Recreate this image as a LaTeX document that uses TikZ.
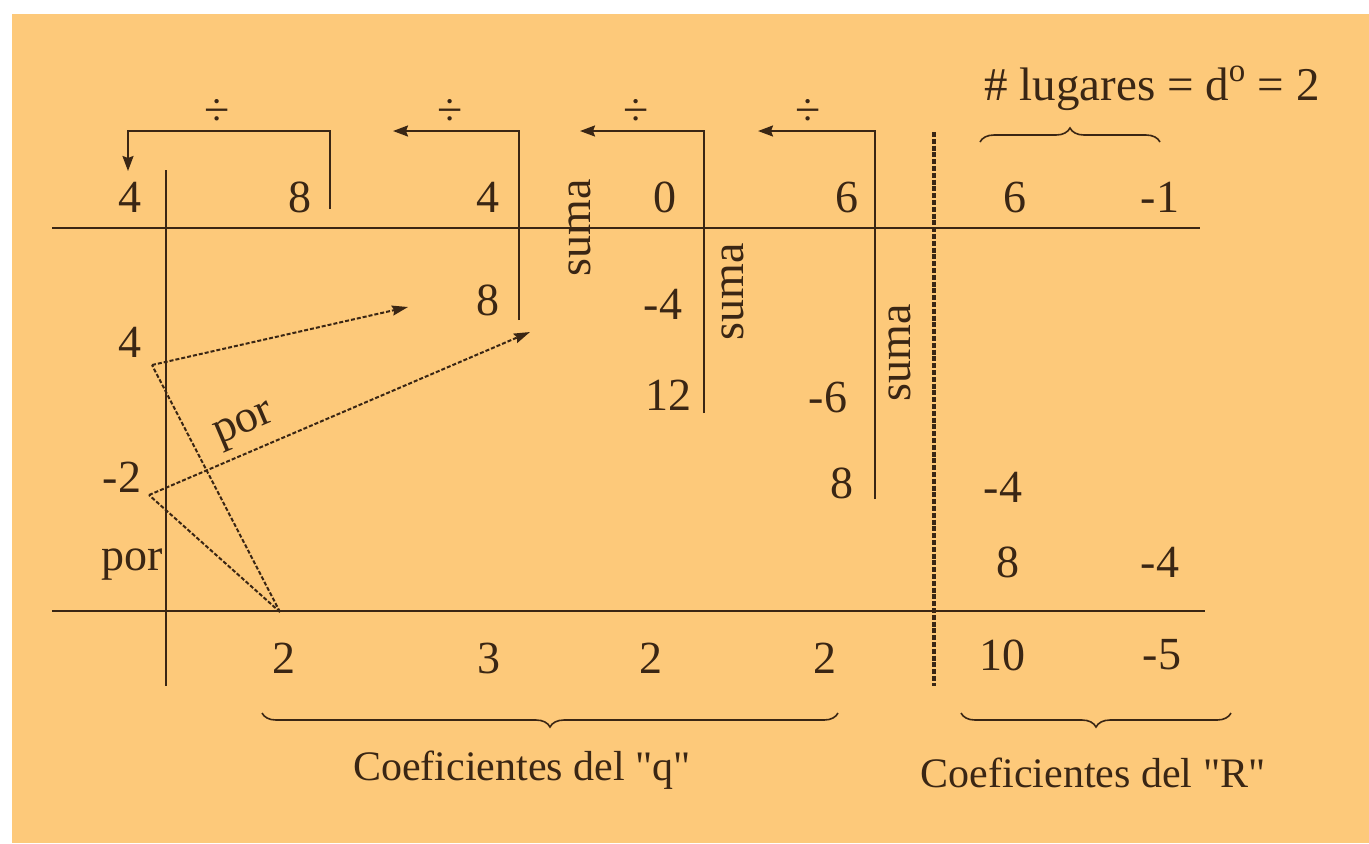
\documentclass[tikz,border=0pt]{standalone}
\usepackage{fontspec}
\setmainfont{Liberation Serif}
\usetikzlibrary{arrows.meta,decorations.pathreplacing}
\definecolor{bgor}{RGB}{253,201,122}
\definecolor{ink}{RGB}{58,38,20}
\begin{document}
\begin{tikzpicture}[x=0.5pt,y=-0.5pt,
  every node/.style={text=ink,inner sep=0pt},
  num/.style={font=\fontsize{23}{23}\selectfont},
  lbl/.style={font=\fontsize{23}{23}\selectfont,anchor=base},
  sumalbl/.style={font=\fontsize{23}{23}\selectfont,rotate=90},
  rule/.style={draw=ink,line width=1pt},
  divarrow/.style={draw=ink,line width=1pt,-{Stealth[length=7.5pt,width=5.5pt,inset=1pt]}},
  mult/.style={draw=ink,line width=1pt,dash pattern=on 2pt off 1pt},
  multarrow/.style={mult,-{Stealth[length=8pt,width=5pt,inset=1pt]}},
  brace/.style={draw=ink,line width=0.8pt,decorate,decoration={brace,amplitude=7pt}},
  mbrace/.style={draw=ink,line width=0.8pt,decorate,decoration={brace,amplitude=7pt,mirror}}]
\fill[white] (0,0) rectangle (1369,843);
\useasboundingbox (0,0) rectangle (1369,843);
\fill[bgor] (12,14) rectangle (1369,843);

% main rules
\coordinate (t1) at (52,228); \coordinate (t2) at (1200,228);
\coordinate (b1) at (52,611); \coordinate (b2) at (1205,611);
\coordinate (v1) at (166,170); \coordinate (v2) at (166,686);
\coordinate (r1) at (934,132); \coordinate (r2) at (934,686);
\draw[rule] (t1) -- (t2);
\draw[rule] (b1) -- (b2);
\draw[rule] (v1) -- (v2);
\draw[draw=ink,line width=1.6pt,dash pattern=on 2.5pt off 0.9pt] (r1) -- (r2);

% top row
\node[num] (a0) at (130,197) {4};
\node[num] (a1) at (300,197) {8};
\node[num] (a2) at (488,197) {4};
\node[num] (a3) at (665,197) {0};
\node[num] (a4) at (847,197) {6};
\node[num] (a5) at (1015,197) {6};
\node[num] (a6) at (1160,197) {-1};

% divisor column
\node[num] (p1) at (130,342) {4};
\node[num] (p2) at (122,477) {-2};
\node[lbl] (por1) at (132,570) {por};

% products
\node[num] (m1) at (488,300) {8};
\node[num] (m2) at (663,304) {-4};
\node[num] (m3) at (668,395) {12};
\node[num] (m4) at (828,397) {-6};
\node[num] (m5) at (842,483) {8};
\node[num] (m6) at (1003,487) {-4};
\node[num] (m7) at (1008,562) {8};
\node[num] (m8) at (1160,562) {-4};

% results
\node[num] (q1) at (284,658) {2};
\node[num] (q2) at (489,658) {3};
\node[num] (q3) at (651,658) {2};
\node[num] (q4) at (825,658) {2};
\node[num] (r1n) at (1002,655) {10};
\node[num] (r2n) at (1162,655) {-5};

% division arrows
\coordinate (d1a) at (330,209); \coordinate (d1b) at (330,131);
\coordinate (d1c) at (128,131); \coordinate (d1d) at (128,171);
\draw[divarrow] (d1a) -- (d1b) -- (d1c) -- (d1d);
\coordinate (d2a) at (519,320); \coordinate (d2b) at (519,131); \coordinate (d2c) at (393,131);
\draw[divarrow] (d2a) -- (d2b) -- (d2c);
\coordinate (d3a) at (704,413); \coordinate (d3b) at (704,131); \coordinate (d3c) at (580,131);
\draw[divarrow] (d3a) -- (d3b) -- (d3c);
\coordinate (d4a) at (875,499); \coordinate (d4b) at (875,131); \coordinate (d4c) at (758,131);
\draw[divarrow] (d4a) -- (d4b) -- (d4c);
\node[num] (dv1) at (217,112) {÷};
\node[num] (dv2) at (450,112) {÷};
\node[num] (dv3) at (636,112) {÷};
\node[num] (dv4) at (808,112) {÷};

% suma labels
\node[sumalbl] (s1) at (580,228) {suma};
\node[sumalbl] (s2) at (733,292) {suma};
\node[sumalbl] (s3) at (900,353) {suma};

% multiplication paths
\coordinate (mb) at (280,612);
\coordinate (ap1) at (152,365); \coordinate (tp1) at (408,307);
\coordinate (ap2) at (149,495); \coordinate (tp2) at (530,332);
\draw[mult] (mb) -- (ap1);
\draw[multarrow] (ap1) -- (tp1);
\draw[mult] (mb) -- (ap2);
\draw[multarrow] (ap2) -- (tp2);
\node[font=\fontsize{23}{23}\selectfont,rotate=23] (por2) at (245,427) {por};

% braces and labels
\coordinate (br1) at (980,142); \coordinate (br2) at (1160,142);
\draw[brace] (br1) -- (br2);
\node[lbl,font=\fontsize{23.5}{23.5}\selectfont] (lug) at (1152,100) {\# lugares = d\textsuperscript{o} = 2};
\coordinate (bq1) at (262,713); \coordinate (bq2) at (838,713);
\draw[mbrace] (bq1) -- (bq2);
\coordinate (bR1) at (961,713); \coordinate (bR2) at (1231,713);
\draw[mbrace] (bR1) -- (bR2);
\node[lbl,font=\fontsize{21}{21}\selectfont] (cq) at (522,780) {Coeficientes del \textquotedbl q\textquotedbl};
\node[lbl,font=\fontsize{21}{21}\selectfont] (cR) at (1093,787) {Coeficientes del \textquotedbl R\textquotedbl};
\end{tikzpicture}
\end{document}
